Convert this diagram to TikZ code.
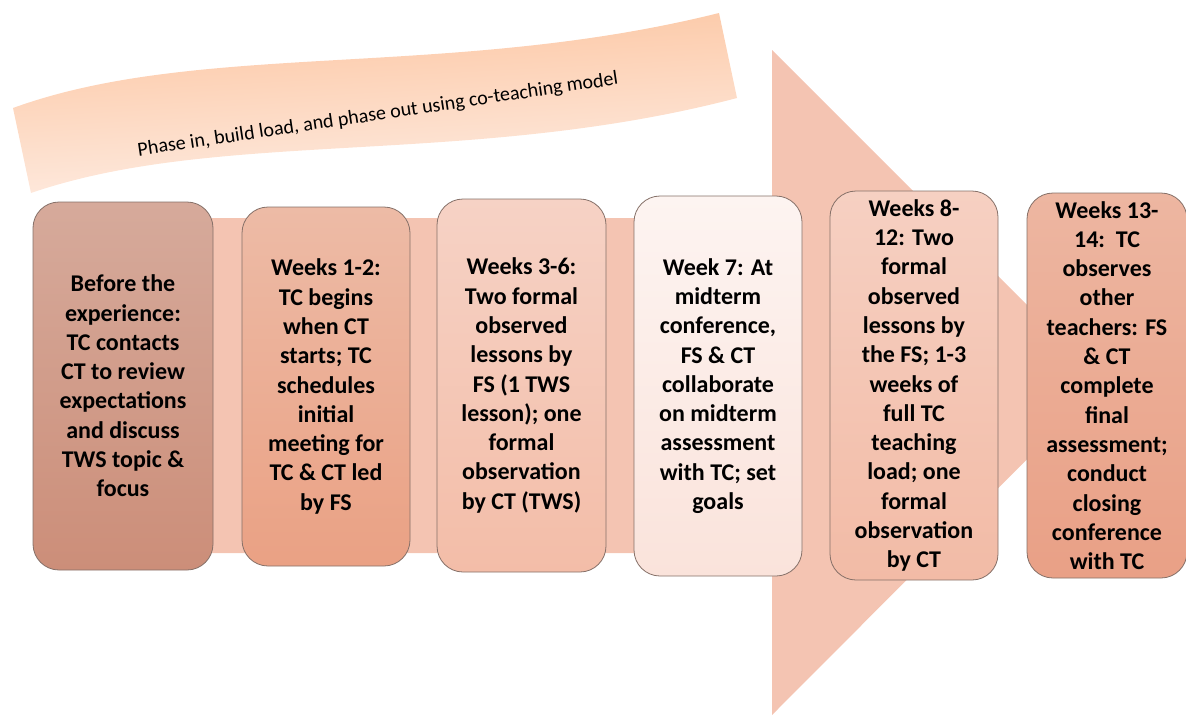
\documentclass[tikz,border=0pt]{standalone}
\usepackage{fontspec}
\newfontfamily\boxfont{Carlito}
\usetikzlibrary{shadings}
\definecolor{arrowc}{HTML}{F4C4B2}
\definecolor{bannertop}{HTML}{FCC6A2}
\definecolor{bannerbot}{HTML}{FEEDE4}
\definecolor{edgec}{HTML}{857068}
\definecolor{aT}{HTML}{D6AA9B}\definecolor{aB}{HTML}{CC8E79}
\definecolor{bT}{HTML}{EDBBA6}\definecolor{bB}{HTML}{EAA184}
\definecolor{cT}{HTML}{F6D2C5}\definecolor{cB}{HTML}{F3BDA8}
\definecolor{dT}{HTML}{FDF4F1}\definecolor{dB}{HTML}{FAE3DB}
\definecolor{eT}{HTML}{F6D0C2}\definecolor{eB}{HTML}{F2BBA6}
\definecolor{fT}{HTML}{EDB6A1}\definecolor{fB}{HTML}{E9A086}
\tikzset{
  stagebox/.style={draw=edgec, line width=0.8pt, rounded corners=26pt,
    inner sep=0pt, align=center, text=black,
    font=\boxfont\bfseries\fontsize{24}{29.3}\selectfont},
}
\begin{document}
\begin{tikzpicture}[x=1pt,y=-1pt]
\useasboundingbox (0,0) rectangle (1186,715);
% big arrow
\fill[arrowc] (60,218) -- (772,218) -- (772,50) -- (1104,382) -- (772,715) -- (772,553) -- (60,553) -- cycle;
% banner
\shade[top color=bannertop, bottom color=bannerbot, shading angle=3]
  (13,108) .. controls (200,40) and (450,80) .. (719,13)
  -- (737,98) .. controls (470,168) and (220,128) .. (31,193) -- cycle;
\node[rotate=8.5, font=\boxfont\fontsize{20}{24}\selectfont] (banner) at (378,115)
  {Phase in, build load, and phase out using co-teaching model};
% stage boxes
\node[stagebox, minimum width=180pt, minimum height=368pt, top color=aT, bottom color=aB] (s1) at (123,386)
  {Before the\\experience:\\TC contacts\\CT to review\\expectations\\and discuss\\TWS topic \&\\focus};
\node[stagebox, minimum width=168pt, minimum height=359pt, top color=bT, bottom color=bB] (s2) at (326,386.5)
  {Weeks 1-2:\\TC begins\\when CT\\starts; TC\\schedules\\initial\\meeting for\\TC \& CT led\\by FS};
\node[stagebox, minimum width=169pt, minimum height=373pt, top color=cT, bottom color=cB] (s3) at (521.5,385.5)
  {Weeks 3-6:\\Two formal\\observed\\lessons by\\FS (1 TWS\\lesson); one\\formal\\observation\\by CT (TWS)};
\node[stagebox, minimum width=168pt, minimum height=380pt, top color=dT, bottom color=dB] (s4) at (718,386)
  {Week 7: At\\midterm\\conference,\\FS \& CT\\collaborate\\on midterm\\assessment\\with TC; set\\goals};
\node[stagebox, minimum width=168pt, minimum height=389pt, top color=eT, bottom color=eB] (s5) at (914,385.5)
  {Weeks 8-\\12: Two\\formal\\observed\\lessons by\\the FS; 1-3\\weeks of\\full TC\\teaching\\load; one\\formal\\observation\\by CT};
\node[stagebox, minimum width=160pt, minimum height=385pt, top color=fT, bottom color=fB] (s6) at (1107,385.5)
  {Weeks 13-\\14:\ \ TC\\observes\\other\\teachers: FS\\\& CT\\complete\\final\\assessment;\\conduct\\closing\\conference\\with TC};
\end{tikzpicture}
\end{document}
